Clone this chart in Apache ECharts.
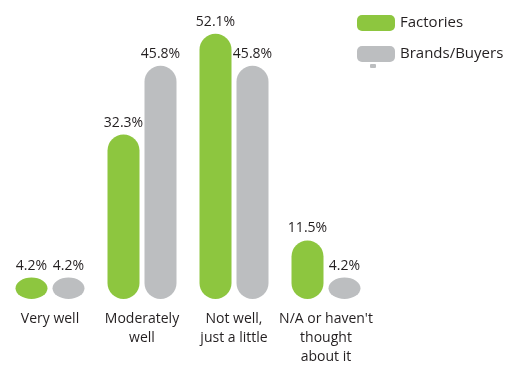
<!DOCTYPE html>
<html><head><meta charset="utf-8">
<script src="https://cdn.jsdelivr.net/npm/echarts@6/dist/echarts.min.js"></script>
<style>html,body{margin:0;padding:0;background:#fff}#c{width:522px;height:367px}</style>
</head><body><div id="c"></div>
<script>
const categories = ["Very well", "Moderately\nwell", "Not well,\njust a little", "N/A or haven't\nthought\nabout it"];
const factories = [4.2, 32.3, 52.1, 11.5];
const brands = [4.2, 45.8, 45.8, 4.2];
const seriesNames = ["Factories", "Brands/Buyers"];
const colors = ['#8dc63f', '#bcbec0'];

const font = '"Open Sans", "Noto Sans", sans-serif';
const txt = '#231f20';
const icon = 'path://M5,0 H33 A5,5 0 0 1 38,5 V11 A5,5 0 0 1 33,16 H5 A5,5 0 0 1 0,11 V5 A5,5 0 0 1 5,0 Z';
const BW = 32, GAP = 5;
function makeRender(idx) {
  return function (params, api) {
    const ci = api.value(0), v = api.value(1);
    const base = api.coord([ci, 0]);
    const top = api.coord([ci, v]);
    const cx = base[0] + (idx === 0 ? -1 : 1) * (BW + GAP) / 2;
    const x0 = cx - BW / 2, x1 = cx + BW / 2;
    const y0 = top[1], y1 = base[1];
    const rx = BW / 2, ry = Math.min(BW / 2, (y1 - y0) / 2);
    const d = `M${x0},${y0 + ry} A${rx},${ry} 0 0 1 ${x1},${y0 + ry} L${x1},${y1 - ry} A${rx},${ry} 0 0 1 ${x0},${y1 - ry} Z`;
    return {
      type: 'path',
      shape: {pathData: d},
      style: {fill: colors[idx]},
      textContent: {style: {text: v.toFixed(1) + '%', fill: txt, font: '14px ' + font}},
      textConfig: {position: 'top', distance: 5}
    };
  };
}
const chart = echarts.init(document.getElementById('c'));
chart.setOption({
  animation: false,
  grid: {left: 4, right: 150, top: 19, bottom: 67, containLabel: false},
  legend: {
    orient: 'vertical', left: 352, top: 10, itemWidth: 38, itemHeight: 16, itemGap: 15,
    icon: icon,
    textStyle: {fontSize: 15, fontFamily: font, color: txt, padding: [0, 0, 0, 0]},
    data: seriesNames
  },
  xAxis: {
    type: 'category', data: categories,
    axisLine: {show: false}, axisTick: {show: false},
    axisLabel: {color: txt, fontSize: 14, fontFamily: font, lineHeight: 19, margin: 11, interval: 0}
  },
  yAxis: {type: 'value', min: 0, max: 55, show: false, splitLine: {show: false}},
  series: [
    {name: seriesNames[0], type: 'custom', data: factories.map((v, i) => [i, v]),
     itemStyle: {color: colors[0]}, renderItem: makeRender(0), encode: {x: 0, y: 1}},
    {name: seriesNames[1], type: 'custom', data: brands.map((v, i) => [i, v]),
     itemStyle: {color: colors[1]}, renderItem: makeRender(1), encode: {x: 0, y: 1}}
  ],
  graphic: [{type: 'rect', left: 370, top: 64, shape: {width: 6, height: 4, r: 1}, style: {fill: '#bcbec0'}}]
});
</script></body></html>
